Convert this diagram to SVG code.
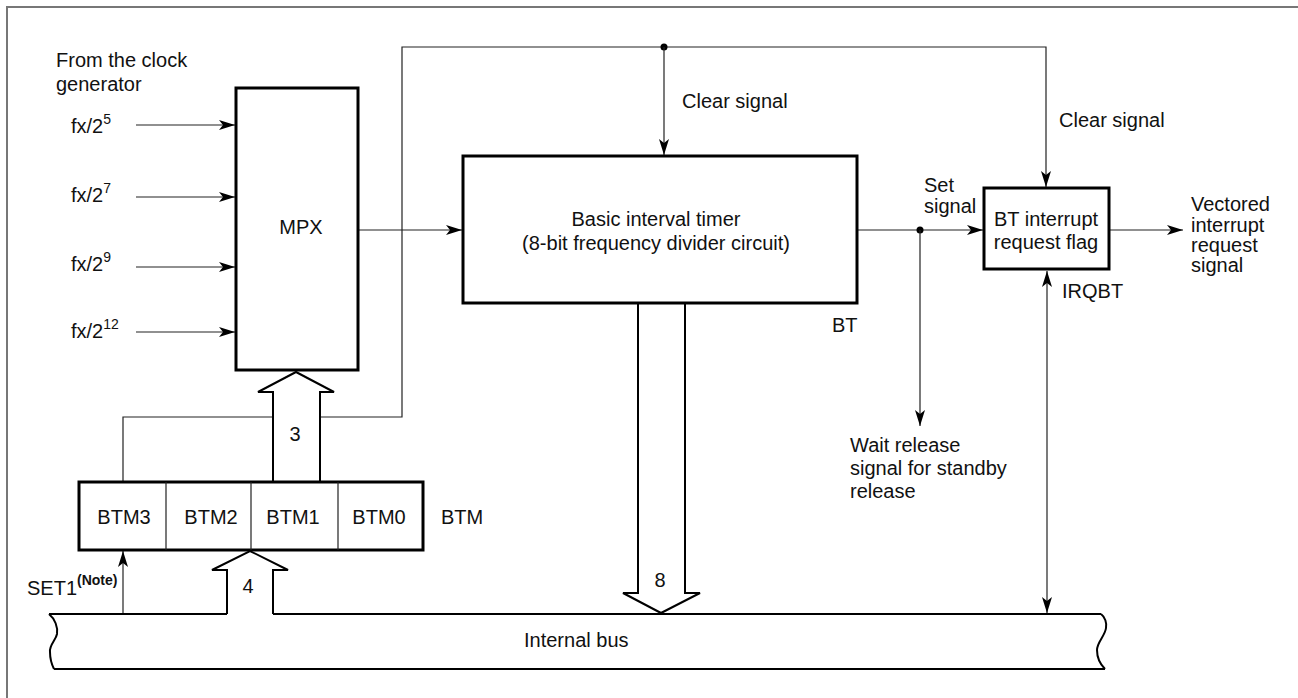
<svg xmlns="http://www.w3.org/2000/svg" width="1298" height="698" viewBox="0 0 1298 698">
<style>
text{font-family:"Liberation Sans",Arial,sans-serif;font-size:20px;fill:#111}
.mid{text-anchor:middle}
.box{fill:#fff;stroke:#000;stroke-width:3}
.thin{fill:none;stroke:#222;stroke-width:1.2}
.arr{marker-end:url(#ah)}
.fat{fill:#fff;stroke:#000;stroke-width:2;stroke-linejoin:miter}
.bus{fill:none;stroke:#000;stroke-width:2}
.sup{font-size:14px}
</style>
<defs>
<marker id="ah" markerUnits="userSpaceOnUse" markerWidth="16" markerHeight="10" refX="16" refY="5" orient="auto-start-reverse">
<path d="M0,0 L16,5 L0,10 L4,5 z" fill="#000"/>
</marker>
</defs>
<rect width="1298" height="698" fill="#fff"/>
<path d="M7,698 V7 H1298" fill="none" stroke="#777" stroke-width="2"/>

<g id="connectors">
<path class="thin" d="M123,482 V417 H402 V47 H1046 V187" marker-end="url(#ah)"/>
<circle cx="664" cy="47" r="3.5" fill="#000"/>
<path class="thin arr" d="M664,47 V155"/>
<path class="thin arr" d="M136,125 H235"/>
<path class="thin arr" d="M136,197 H235"/>
<path class="thin arr" d="M136,267 H235"/>
<path class="thin arr" d="M136,332 H235"/>
<path class="thin arr" d="M358,230 H462"/>
<path class="thin arr" d="M857,230 H983"/>
<circle cx="920" cy="230" r="3.5" fill="#000"/>
<path class="thin arr" d="M920,230 V426"/>
<path class="thin arr" d="M1110,230 H1183"/>
<path class="thin" d="M1047,271 V613" marker-start="url(#ah)" marker-end="url(#ah)"/>
<path class="thin arr" d="M123,614 V551"/>
<polygon class="fat" points="273,482 273,392 258,392 296,372 334,392 320,392 320,482"/>
<polyline class="fat" points="227,614 227,570 212,570 250,551 288,570 273,570 273,614"/>
<polygon class="fat" points="638,303 638,593 623,593 661,613 700,593 685,593 685,303"/>
</g>

<g id="bus">
<path class="bus" d="M49,614 H227 M273,614 H1101 M54,669 H1105"/>
<path class="bus" d="M49,614 C55,619 58,627 57,634 C56,640 49,645 50,652 C50,660 52,665 54,669"/>
<path class="bus" d="M1101,614 C1105,617 1107,623 1106,628 C1105,636 1097,642 1097,650 C1097,658 1101,665 1105,669"/>
<text x="524" y="647">Internal bus</text>
</g>

<g id="clock-inputs">
<text x="56" y="67">From the clock</text>
<text x="56" y="91">generator</text>
<text x="71" y="133">fx/2<tspan class="sup" dy="-9">5</tspan></text>
<text x="71" y="202">fx/2<tspan class="sup" dy="-9">7</tspan></text>
<text x="71" y="271">fx/2<tspan class="sup" dy="-9">9</tspan></text>
<text x="71" y="338">fx/2<tspan class="sup" dy="-9">12</tspan></text>
</g>

<g id="mpx">
<rect class="box" x="236" y="88" width="122" height="282"/>
<text class="mid" x="301" y="234">MPX</text>
</g>

<g id="timer">
<rect class="box" x="463" y="156" width="394" height="147"/>
<text class="mid" x="656" y="226">Basic interval timer</text>
<text class="mid" x="656" y="250">(8-bit frequency divider circuit)</text>
<text x="832" y="332">BT</text>
</g>

<g id="flag">
<rect class="box" x="984" y="188" width="125" height="81"/>
<text class="mid" x="1046" y="226">BT interrupt</text>
<text class="mid" x="1046" y="249">request flag</text>
<text x="1062" y="298">IRQBT</text>
</g>

<g id="btm">
<rect class="box" x="79" y="482" width="344" height="68"/>
<path d="M166,482 V550 M251,482 V550 M338,482 V550" stroke="#222" stroke-width="1.2"/>
<text class="mid" x="124" y="524">BTM3</text>
<text class="mid" x="211" y="524">BTM2</text>
<text class="mid" x="293" y="524">BTM1</text>
<text class="mid" x="379" y="524">BTM0</text>
<text x="441" y="524">BTM</text>
</g>

<g id="labels">
<text x="682" y="108">Clear signal</text>
<text x="1059" y="127">Clear signal</text>
<text x="924" y="192">Set</text>
<text x="924" y="213">signal</text>
<text x="1191" y="211">Vectored</text>
<text x="1191" y="232">interrupt</text>
<text x="1191" y="252">request</text>
<text x="1191" y="272">signal</text>
<text x="850" y="452">Wait release</text>
<text x="850" y="475">signal for standby</text>
<text x="850" y="498">release</text>
<text class="mid" x="295" y="441">3</text>
<text class="mid" x="248" y="593">4</text>
<text class="mid" x="660" y="587">8</text>
<text x="27" y="595">SET1<tspan x="77" y="585" font-size="14" font-weight="bold">(Note)</tspan></text>
</g>
</svg>
